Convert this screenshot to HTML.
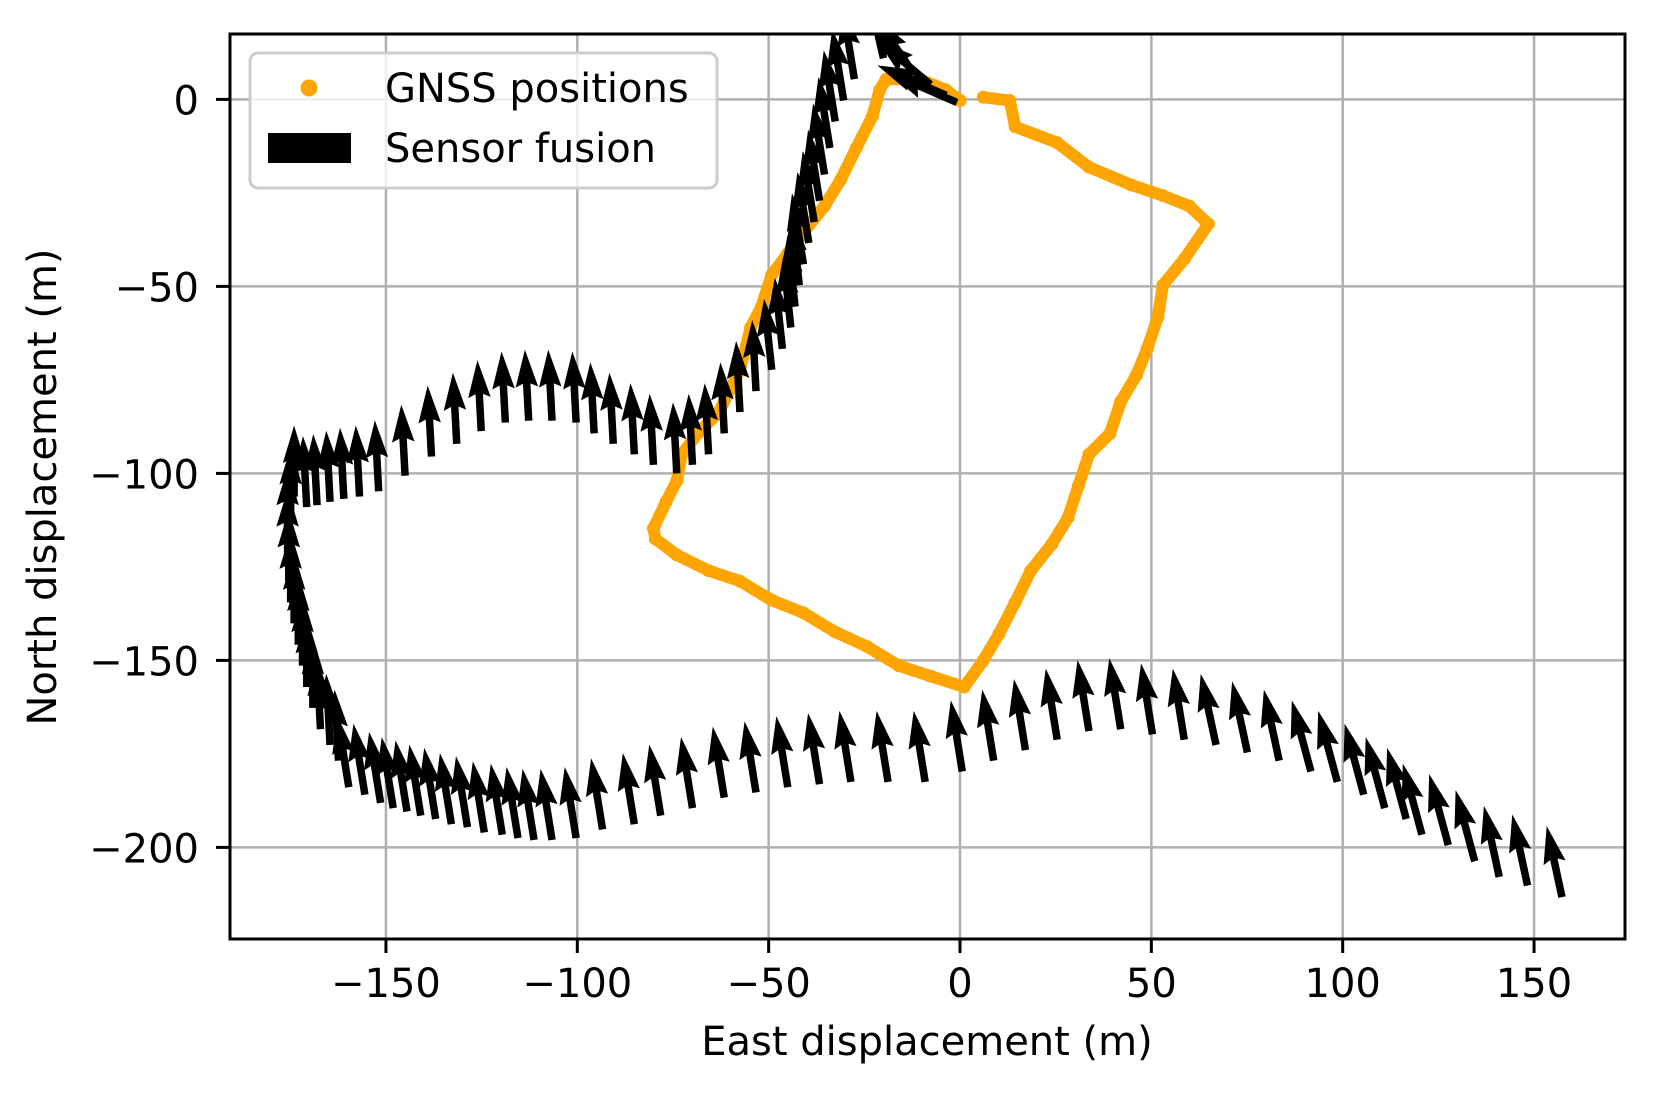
<!DOCTYPE html>
<html><head><meta charset="utf-8">
<style>
html,body{margin:0;padding:0;background:#fff;}
svg{display:block;font-family:"DejaVu Sans","Liberation Sans",sans-serif;}
</style></head>
<body>
<svg id="chart" width="1658" height="1095" viewBox="0 0 1658 1095">
  <rect x="0" y="0" width="1658" height="1095" fill="#fff"/>
  <defs><clipPath id="plotclip"><rect x="230" y="34" width="1395" height="905"/></clipPath></defs>
  <g id="grid"></g>
  <g id="gnss" clip-path="url(#plotclip)"></g>
  <g id="fusion" clip-path="url(#plotclip)"></g>
  <rect x="230" y="34" width="1395" height="905" fill="none" stroke="#000" stroke-width="3"/>
  <g id="ticks"></g>
  <text x="927" y="1055" font-size="40" text-anchor="middle">East displacement (m)</text>
  <text x="0" y="0" font-size="40" text-anchor="middle" transform="translate(56,487) rotate(-90)">North displacement (m)</text>
  <g>
    <rect x="250" y="53" width="467" height="135" rx="8" fill="#fff" fill-opacity="0.8" stroke="#cccccc" stroke-width="3"/>
    <circle cx="309" cy="88" r="8.5" fill="#ffa500"/>
    <text x="385" y="102" font-size="40">GNSS positions</text>
    <rect x="268" y="133" width="83" height="30" fill="#000"/>
    <text x="385" y="162" font-size="40">Sensor fusion</text>
  </g>
</svg>
<script>
const xTicks = [-150,-100,-50,0,50,100,150];
const yTicks = [0,-50,-100,-150,-200];
const gnssX = [6.1,13.0,14.4,25.4,33.7,44.8,53.0,59.9,64.9,58.6,53.0,51.7,48.9,46.1,42.0,39.2,33.7,30.9,28.2,24.0,18.5,14.4,10.2,6.1,1.1,-7.7,-16.0,-24.3,-32.6,-40.9,-49.2,-57.5,-65.7,-74.0,-79.6,-80.1,-76.8,-74.0,-72.7,-68.5,-63.0,-57.5,-54.7,-51.9,-49.2,-45.0,-40.9,-35.4,-31.2,-27.1,-22.9,-21.0,-19.3,-10.5,-3.6,0];
const gnssY = [0.6,-0.3,-7.3,-11.6,-18.1,-22.9,-25.7,-28.5,-33.3,-42.7,-49.7,-58.2,-66.7,-73.7,-80.8,-89.3,-94.9,-103.4,-111.9,-118.9,-126.0,-134.5,-142.9,-150.0,-157.1,-154.2,-151.4,-146.3,-142.4,-137.3,-133.9,-128.8,-126.0,-121.8,-117.5,-114.7,-107.6,-102.0,-94.9,-89.3,-83.6,-72.3,-61.0,-55.4,-46.9,-41.2,-35.6,-28.5,-21.5,-13.0,-4.5,2.5,5.4,5.4,2.5,-0.3];
// sensor fusion quiver: tail positions and direction vectors (m)
const fusionX = [
 -0.8,-3.6,-7.7,-12,-16,-20,
 -27.6,-30.4,-32.6,-34.0,-35.4,-36.7,-38.1,-39.5,-40.9,-42.0,
 -43.1,-44.2,-46.4,-49.2,-53.3,-57.5,-61.6,-65.7,-69.9,-74.0,
 -80.1,-85.1,-90.6,-95.6,-100.3,-106.6,-112.7,-118.8,-125.1,-131.5,
 -138.1,-145.0,-151.9,-156.9,-161.0,-164.6,-168.0,-170.7,
 -174.0,-174.9,-175.7,-175.7,-175.4,-174.9,-174.0,
 -172.9,-171.8,-170.7,-169.1,-167.1,-164.6,-162.4,
 -159.7,-155.5,-151.4,-148.1,-144.5,-140.9,-137.0,-132.9,
 -128.7,-124.3,-119.6,-115.5,-111.3,-106.6,-100.3,-93.4,
 -85.1,-78.2,-69.9,-61.6,-53.3,-45.0,-36.7,-28.5,
 -18.8,-9.1,0.6,8.8,17.1,25.4,33.7,42.0,
 50.3,58.6,66.9,75.1,83.4,91.7,98.6,105.5,
 111.0,116.6,120.7,127.6,134.5,140.9,148.3,157.3];
const fusionY = [
 -0.8,1.1,4,6.8,9.6,11,
 5.4,-0.3,-5.9,-13.0,-20.1,-27.1,-32.8,-38.4,-44.1,-49.7,
 -55.4,-61.0,-66.7,-72.3,-78.0,-83.6,-89.3,-94.9,-97.7,-100.0,
 -97.7,-94.9,-92.1,-89.3,-86.4,-85.9,-85.9,-86.4,-88.7,-92.1,
 -95.5,-100.6,-104.8,-106.2,-106.8,-107.6,-108.5,-109.0,
 -106.2,-111.9,-117.5,-123.2,-128.8,-134.5,-140.1,
 -145.8,-151.4,-157.1,-162.7,-168.4,-172.6,-176.8,
 -183.9,-185.9,-188.1,-189.5,-190.4,-191.5,-192.4,-193.8,
 -194.6,-196.0,-196.6,-197.5,-198.0,-198.0,-197.5,-195.2,
 -193.8,-191.5,-189.5,-186.7,-185.3,-183.9,-183.1,-182.5,
 -182.5,-182.5,-179.7,-176.8,-174.0,-171.2,-168.9,-168.4,
 -169.8,-171.2,-172.6,-174.6,-176.8,-179.7,-182.5,-185.9,
 -189.5,-192.4,-196.6,-199.4,-203.7,-207.9,-210.2,-213.3];
const fusionU = [
 -18,-18,-14,-10,-6,-4,
 -3,-3,-3,-3,-3,-3,-3,-3,-3,-2,
 -2,-2,-2,-2,-1,-1,-1,-1,-1,-1,
 -1,-1,-1,-1,-1,-1,-1,-1,-1,-1,
 -1,-1,-1,-1,-1,-1,-1,-1,
 0,0,0,0,0,0,0,
 0,0,0,0,-1,-1,-1,
 -3,-3,-3,-3,-3,-3,-3,-3,
 -3,-3,-3,-3,-3,-3,-3,-3,
 -3,-3,-3,-3,-3,-3,-3,-3,
 -3,-3,-3,-3,-3,-3,-3,-3,
 -3,-3,-4,-4,-4,-5,-5,-5,
 -5,-5,-5,-5,-5,-4,-4,-4];
const fusionV = [
 8,8,12,15,17,18,
 19,19,19,19,19,19,19,19,19,19,
 19,19,19,19,19,19,19,19,19,19,
 19,19,19,19,19,19,19,19,19,19,
 19,19,19,19,19,19,19,19,
 19,19,19,19,19,19,19,
 19,19,19,19,19,19,19,
 19,19,19,19,19,19,19,19,
 19,19,19,19,19,19,19,19,
 19,19,19,19,19,19,19,19,
 19,19,19,19,19,19,19,19,
 19,19,19,19,19,19,19,19,
 19,19,19,19,19,19,19,19];

const NS='http://www.w3.org/2000/svg';
const X0=230,X1=1625,Y0=34,Y1=939;
function sx(v){return 960+v*3.827;}
function sy(v){return 99.4-v*3.74;}
function mk(tag,attrs,parent){const e=document.createElementNS(NS,tag);for(const k in attrs)e.setAttribute(k,attrs[k]);parent.appendChild(e);return e;}
const grid=document.getElementById('grid'),ticks=document.getElementById('ticks');
xTicks.forEach(t=>{
  const x=sx(t);
  const g=mk('line',{x1:x,x2:x,y1:Y0,y2:Y1,stroke:'#b0b0b0','stroke-width':2.5},grid);
  
  
  const tk=mk('line',{x1:x,x2:x,y1:Y1,y2:Y1+14,stroke:'#000','stroke-width':3},ticks);
  
  
  const lb=mk('text',{x:x,y:997,'font-size':40,'text-anchor':'middle'},ticks);
  lb.textContent=(t<0?'\u2212':'')+Math.abs(t);
  
  
});
yTicks.forEach(t=>{
  const y=sy(t);
  const g=mk('line',{x1:X0,x2:X1,y1:y,y2:y,stroke:'#b0b0b0','stroke-width':2.5},grid);
  
  
  const tk=mk('line',{x1:X0-14,x2:X0,y1:y,y2:y,stroke:'#000','stroke-width':3},ticks);
  
  
  const lb=mk('text',{x:199,y:y+15,'font-size':40,'text-anchor':'end'},ticks);
  lb.textContent=(t<0?'\u2212':'')+Math.abs(t);
  
  
});
const gn=document.getElementById('gnss');
let pts=gnssX.map((x,i)=>sx(x)+','+sy(gnssY[i])).join(' ');
const pl=mk('polyline',{points:pts,fill:'none',stroke:'#ffa500','stroke-width':12,'stroke-linejoin':'round','stroke-linecap':'round'},gn);


gnssX.forEach((x,i)=>{
  const c=mk('circle',{cx:sx(x),cy:sy(gnssY[i]),r:6.5,fill:'#ffa500'},gn);
  
  
});
const fu=document.getElementById('fusion');
const w=7.5,hw=22.5,hl=37.5,hla=34;
fusionX.forEach((x,i)=>{
  const tx=sx(x),ty=sy(fusionY[i]);
  const dx=fusionU[i]*3.827,dy=-fusionV[i]*3.74;
  const L=Math.hypot(dx,dy),ang=Math.atan2(dy,dx)*180/Math.PI;
  const p=[[0,-w/2],[L-hla,-w/2],[L-hl,-hw/2],[L,0],[L-hl,hw/2],[L-hla,w/2],[0,w/2]].map(q=>q.join(',')).join(' ');
  const a=mk('polygon',{points:p,fill:'#000',transform:`translate(${tx},${ty}) rotate(${ang})`},fu);
  
  
});
</script>
</body></html>
